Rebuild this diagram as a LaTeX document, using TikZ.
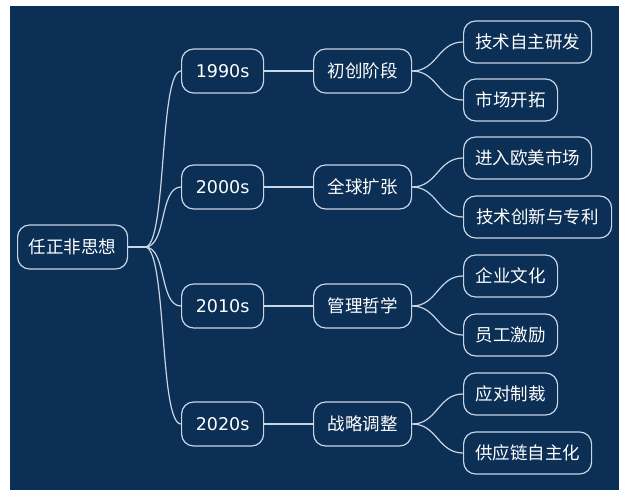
\documentclass[tikz,border=0pt]{standalone}
\usepackage{fontspec}
\setmainfont{Noto Sans CJK SC}
\newfontfamily\latinf{DejaVu Sans}
\definecolor{navy}{HTML}{0C2F55}
\definecolor{ln}{HTML}{C8D6E6}
\begin{document}
\begin{tikzpicture}[x=1pt,y=-1pt,
  box/.style={draw=ln,line width=1.2pt,rounded corners=12pt,text=white,font=\fontsize{17.5}{17.5}\selectfont,minimum height=44pt,inner xsep=6pt,anchor=west},
  con/.style={draw=ln,line width=1.2pt}]
\useasboundingbox (0,0) rectangle (629,500);
\fill[white] (0,0) rectangle (629,500);
\fill[navy] (10,6) rectangle (619,490);
\node[box,minimum width=110pt] (r) at (17,247) {任正非思想};
\coordinate (rs) at (145,247);
\draw[con] (r.east) -- (rs);
\foreach \n/\t/\y/\m in {a/1990s/71/初创阶段,b/2000s/187/全球扩张,c/2010s/306/管理哲学,d/2020s/424/战略调整}{
  \node[box,minimum width=82pt] (\n) at (181,\y) {\latinf\t};
  \node[box,minimum width=98pt] (\n2) at (313,\y) {\m};
  \draw[con] (rs) .. controls ++(22,0) and ++(-22,0) .. (\n.west);
  \draw[con] (\n.east) -- (\n2.west);
}
\foreach \n/\p/\t/\y/\w in {a1/a2/技术自主研发/42/128,a3/a2/市场开拓/100/94,b1/b2/进入欧美市场/158/128,b3/b2/技术创新与专利/217/148,c1/c2/企业文化/276/94,c3/c2/员工激励/335/94,d1/d2/应对制裁/394/94,d3/d2/供应链自主化/453/128}{
  \node[box,minimum height=42pt,minimum width=\w pt] (\n) at (463,\y) {\t};
  \draw[con] (\p.east) .. controls ++(25,0) and ++(-25,0) .. (\n.west);
}
\end{tikzpicture}
\end{document}
